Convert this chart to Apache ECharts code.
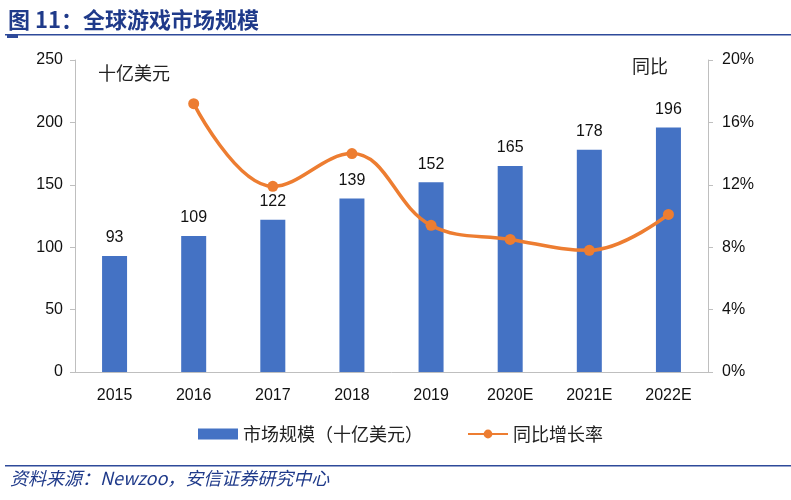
<!DOCTYPE html>
<html><head><meta charset="utf-8">
<script src="https://cdn.jsdelivr.net/npm/echarts@6/dist/echarts.min.js"></script>
<style>html,body{margin:0;padding:0;background:#fff}#c{width:791px;height:500px}</style>
</head><body><div id="c"></div>
<script>
var categories = ['2015','2016','2017','2018','2019','2020E','2021E','2022E'];
var marketSize = [93,109,122,139,152,165,178,196];
var yoyGrowth = [null,17.2,11.9,14.0,9.4,8.5,7.8,10.1];
var leftTicks = [0,50,100,150,200,250];
var rightTicks = [0,4,8,12,16,20];

var chart = echarts.init(document.getElementById('c'));
var numFont = 'Liberation Sans, Arial, sans-serif';
var cjkFont = 'Noto Sans CJK SC, sans-serif';
chart.setOption({
  animation: false,
  grid: {left: 75, right: 83, top: 60, bottom: 128},
  legend: {
    bottom: 52, left: 193, itemGap: 44, itemWidth: 40, itemHeight: 11,
    textStyle: {fontFamily: cjkFont, fontSize: 18, color: '#222'},
    data: [{name: '市场规模（十亿美元）', icon: 'rect'}, {name: '同比增长率'}]
  },
  xAxis: {
    type: 'category', data: categories,
    axisLine: {lineStyle: {color: '#bfbfbf'}},
    axisTick: {show: false},
    axisLabel: {fontFamily: numFont, fontSize: 16, color: '#111', margin: 16}
  },
  yAxis: [{
    type: 'value', min: leftTicks[0], max: leftTicks[leftTicks.length-1], interval: 50,
    axisLine: {show: true, lineStyle: {color: '#bfbfbf'}},
    axisTick: {show: true, length: 5, lineStyle: {color: '#bfbfbf'}},
    splitLine: {show: false},
    axisLabel: {fontFamily: numFont, fontSize: 16, color: '#111', margin: 12}
  }, {
    type: 'value', min: rightTicks[0], max: rightTicks[rightTicks.length-1], interval: 4,
    axisLine: {show: true, lineStyle: {color: '#bfbfbf'}},
    axisTick: {show: true, length: 5, lineStyle: {color: '#bfbfbf'}},
    splitLine: {show: false},
    axisLabel: {fontFamily: numFont, fontSize: 16, color: '#111', margin: 14, formatter: '{value}%'}
  }],
  series: [{
    name: '市场规模（十亿美元）', type: 'bar', data: marketSize, barWidth: 25,
    itemStyle: {color: '#4472C4'},
    label: {show: true, position: 'top', distance: 10, fontFamily: numFont, fontSize: 16, color: '#111'}
  }, {
    name: '同比增长率', type: 'line', yAxisIndex: 1, data: yoyGrowth, smooth: 0.4,
    symbol: 'circle', symbolSize: 11,
    lineStyle: {color: '#ED7D31', width: 3.5},
    itemStyle: {color: '#ED7D31'}
  }],
  graphic: [
    {type: 'text', left: 8, top: 9, style: {text: '图 11：全球游戏市场规模', fontFamily: cjkFont, fontSize: 22, fontWeight: 'bold', fill: '#1F3A8A'}},
    {type: 'rect', shape: {x: 5, y: 34, width: 786, height: 1.5}, style: {fill: '#2E4A9A'}},
    {type: 'rect', shape: {x: 7, y: 35, width: 11, height: 3}, style: {fill: '#2E4A9A'}},
    {type: 'text', left: 98, top: 64, style: {text: '十亿美元', fontFamily: cjkFont, fontSize: 18, fill: '#222'}},
    {type: 'text', left: 632, top: 57, style: {text: '同比', fontFamily: cjkFont, fontSize: 18, fill: '#222'}},
    {type: 'rect', shape: {x: 5, y: 465, width: 786, height: 1.5}, style: {fill: '#2E4A9A'}},
    {type: 'text', left: 10, top: 469, style: {text: '资料来源：Newzoo，安信证券研究中心', fontFamily: cjkFont, fontSize: 18, fontStyle: 'italic', fill: '#1F3A8A'}}
  ]
});
</script></body></html>
